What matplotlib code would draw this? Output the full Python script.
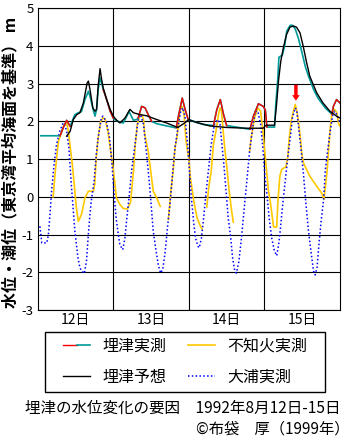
import numpy as np
import matplotlib
matplotlib.use("Agg")
import matplotlib.pyplot as plt
from matplotlib.lines import Line2D
from matplotlib.patches import Rectangle
from matplotlib.legend_handler import HandlerTuple

plt.rcParams['font.family'] = ['Noto Sans CJK JP', 'DejaVu Sans']
plt.rcParams['axes.unicode_minus'] = False

# hours from 12 Aug 0:00
day_centers = [12, 36, 60, 84]
day_labels = ['12日', '13日', '14日', '15日']
day_bounds = [24, 48, 72]

# 埋津実測 (observed)
obs_h = [1, 7.1, 8.2, 9.2, 10.3, 11.8, 12.9, 13.9, 15.0, 16.1, 16.6, 17.6, 18.2, 18.7,
         19.2, 19.8, 20.3, 20.8, 21.9, 23.0, 24.0, 24.4, 26.1, 27.2, 28.3, 29.0, 29.5,
         30.4, 31.4, 31.9, 33.0, 34.1, 35.1, 36.2, 37.8, 41.0, 44.0, 44.6, 45.9, 46.8,
         47.8, 48.4, 52.6, 55.8, 56.9, 58.0, 59.0, 60.0, 63.2, 67.4, 68.5, 70.1, 71.6,
         72.3, 72.8, 75.2, 75.6, 76.2, 76.6, 77.7, 78.4, 79.1, 80.2, 80.9, 81.8, 82.8,
         84.0, 85.0, 86.0, 87.6, 89.0, 91.3, 93.4, 93.9, 94.9, 96.0]
obs_v = [1.62, 1.62, 1.85, 2.03, 1.87, 2.18, 2.23, 2.26, 2.58, 2.80, 2.67, 2.32, 2.14, 2.32,
         2.85, 3.16, 3.02, 2.85, 2.58, 2.27, 2.09, 2.05, 1.98, 1.96, 2.14, 2.27, 2.18,
         2.03, 2.05, 2.09, 2.40, 2.36, 2.18, 2.00, 1.94, 1.88, 1.83, 2.10, 2.62, 2.32,
         2.05, 2.03, 1.92, 1.89, 2.32, 2.58, 2.19, 1.89, 1.85, 1.79, 2.14, 2.47, 2.40,
         2.30, 1.85, 1.85, 2.45, 3.07, 3.70, 3.76, 4.00, 4.40, 4.55, 4.55, 4.45, 4.20,
         3.80, 3.45, 3.20, 2.85, 2.62, 2.36, 2.19, 2.40, 2.58, 2.49]
# parts of the observed record drawn in red
red_spans = [(7.1, 10.3), (20.5, 24.0), (31.9, 36.2), (44.0, 47.8), (55.8, 60.0),
             (67.4, 72.8), (93.4, 96.0)]

# 埋津予想 (predicted)
pred_h = [9.2, 10.3, 11.3, 12.4, 13.4, 14.5, 15.7, 16.1, 16.6, 17.5, 18.2, 18.7, 19.2,
          19.8, 20.3, 20.8, 21.9, 23.0, 24.0, 25.1, 26.1, 27.7, 29.3, 30.4, 32.5, 34.6,
          37.8, 40.9, 44.5, 46.5, 48.0, 50.5, 54.7, 60.0, 66.4, 71.6, 72.5, 75.2, 75.8,
          76.5, 77.2, 78.0, 79.0, 80.1, 81.2, 82.2, 83.3, 84.3, 85.4, 86.4, 88.6, 90.6,
          92.8, 94.9, 96.0]
pred_v = [1.61, 1.74, 2.05, 2.18, 2.23, 2.49, 3.02, 3.07, 2.85, 2.36, 2.27, 2.32, 2.94,
          3.40, 3.11, 2.89, 2.58, 2.32, 2.14, 2.03, 1.96, 2.09, 2.32, 2.23, 2.18, 2.15,
          2.05, 1.96, 1.84, 1.95, 2.05, 1.97, 1.88, 1.84, 1.82, 1.82, 1.90, 1.90, 2.40,
          3.10, 3.60, 3.95, 4.30, 4.50, 4.53, 4.50, 4.35, 4.00, 3.56, 3.20, 2.76, 2.49,
          2.27, 2.14, 2.09]

# 不知火実測 (nan = missing)
shir_h = [4.9, 5.5, 6.0, 6.6, 7.2, 8.3, 9.2, 9.8, 10.2, 11.0, 11.8, 12.3, 12.9, 13.9,
          15.0, 16.1, 17.7, 18.1, 18.6, 19.2, 20.0, 20.7, 21.5, 22.3, 23.2, 24.0, 24.5,
          25.0, 26.1, 27.2, 28.5, 29.5, 30.4, 30.9, 31.6, 32.5, 33.0, 33.6, 34.0, 35.1,
          35.9, 36.7, 37.8, 38.9, 40.0, 41.5, 42.3, 43.0, 43.6, 44.2, 44.7, 45.2, 45.8,
          46.5, 47.1, 48.0, 48.5, 49.6, 50.6, 51.7, 52.2, 53.0, 53.7, 54.3, 55.1, 55.8,
          56.6, 57.4, 57.9, 58.4, 58.9, 59.5, 60.2, 60.8, 61.6, 62.1, 65.0, 67.3, 67.8,
          68.9, 69.9, 70.8, 71.5, 72.0, 72.7, 73.3, 73.8, 74.3, 74.9, 75.9, 76.3, 76.9,
          77.5, 78.8, 79.4, 79.9, 80.5, 81.2, 81.8, 82.3, 82.8, 83.4, 83.9, 84.4, 85.4,
          86.4, 88.6, 90.2, 90.9, 91.9, 92.4, 92.9, 93.4, 94.3, 95.0, 95.6, 96.0]
shir_v = [0.0, 0.6, 1.03, 1.48, 1.62, 1.9, 1.98, 1.7, 1.4, 0.86, 0.15, -0.3, -0.65, -0.47,
          -0.03, 0.15, 0.15, 0.33, 1.04, 1.57, 2.0, 2.1, 2.05, 1.74, 1.2, 0.72, 0.37,
          -0.03, -0.2, -0.31, -0.32, -0.14, 0.68, 1.3, 1.92, 2.18, 2.18, 2.05, 1.65, 1.21,
          0.68, 0.15, -0.03, -0.25, np.nan, -0.6, 0.15, 0.68, 1.3, 1.57, 1.92, 2.32, 2.4,
          2.18, 1.48, 1.0, 0.5, -0.12, -0.56, -0.78, -0.85, np.nan, -0.27, 0.24, 0.68, 1.39,
          1.74, 2.18, 2.36, 2.27, 1.74, 1.21, 0.68, 0.15, -0.38, -0.67, np.nan, 1.21, 1.57,
          2.1, 2.36, 2.27, 1.74, 1.3, 0.68, 0.15, -0.1, -0.4, -0.8, -0.8, -0.1, 0.55,
          0.73, 0.8, 1.04, 1.57, 2.0, 2.27, 2.45, 2.27, 2.0, 1.57, 1.12, 0.9, 0.72,
          0.55, 0.28, 0.1, -0.07, 0.68, 1.3, 1.83, 2.18, 2.32, 2.23, 1.92, 1.88]

# 大浦実測
oura_h = [0.7, 1.3, 2.9, 3.4, 3.9, 4.4, 5.2, 6.0, 7.0, 8.1, 8.6, 9.2, 9.9, 10.7, 11.3,
          11.8, 12.3, 12.8, 13.4, 14.0, 14.8, 15.5, 16.0, 16.5, 17.0, 17.9, 18.6, 19.2,
          20.2, 20.7, 21.8, 22.8, 23.6, 24.2, 24.9, 25.6, 26.1, 27.0, 27.7, 28.2, 29.0,
          29.8, 30.9, 32.0, 32.7, 33.6, 34.6, 35.5, 36.2, 36.7, 37.6, 38.3, 39.0, 39.7,
          40.5, 41.2, 42.0, 42.9, 43.6, 44.7, 45.4, 46.1, 46.8, 47.6, 48.2, 48.8, 49.6,
          50.1, 50.9, 51.3, 52.0, 52.7, 53.4, 54.3, 55.1, 56.1, 57.2, 57.9, 58.6, 59.3,
          60.0, 60.5, 61.3, 61.9, 62.6, 63.1, 63.9, 64.7, 65.5, 66.3, 67.3, 68.4, 69.1,
          69.9, 70.8, 71.5, 72.2, 72.7, 73.5, 74.3, 75.2, 75.9, 76.5, 77.0, 77.7, 78.6,
          79.4, 80.2, 80.9, 81.8, 82.3, 83.0, 83.7, 84.4, 85.2, 86.0, 86.9, 87.6, 88.1,
          88.7, 89.4, 90.0, 90.8, 91.3, 92.2, 92.9, 93.7, 94.3, 95.0, 95.8]
oura_v = [-0.78, -1.22, -1.22, -1.0, -0.47, 0.15, 0.86, 1.39, 1.74, 1.96, 1.9, 1.75, 1.3,
          0.3, -0.38, -0.91, -1.27, -1.62, -1.88, -1.97, -2.03, -1.7, -1.09, -0.56, -0.12,
          0.42, 1.12, 1.57, 2.1, 2.14, 2.0, 1.57, 0.86, 0.15, -0.56, -1.0, -1.27, -1.4,
          -1.09, -0.65, -0.03, 0.68, 1.39, 2.1, 2.18, 1.92, 1.12, 0.33, -0.38, -0.91,
          -1.44, -1.8, -2.02, -1.93, -1.44, -0.82, -0.2, 0.68, 1.3, 1.92, 2.27, 2.36, 2.1,
          1.39, 0.68, -0.03, -0.73, -1.09, -1.31, -1.35, -1.09, -0.56, 0.06, 0.77, 1.39,
          1.92, 2.05, 1.92, 1.3, 0.68, -0.03, -0.56, -1.09, -1.62, -1.97, -2.02, -1.71,
          -1.09, -0.38, 0.33, 1.21, 1.92, 2.27, 2.27, 1.92, 1.3, 0.5, 0.15, -0.56, -1.09,
          -1.44, -1.56, -1.27, -0.91, -0.29, 0.42, 1.04, 1.57, 2.1, 2.36, 2.27, 1.74,
          1.21, 0.6, -0.2, -0.91, -1.53, -1.97, -2.07, -1.88, -1.18, -0.65, -0.07, 0.68,
          1.3, 1.74, 2.18, 2.27, 2.18, 2.0]

# red arrow marking the 不知火 peak on the 15th
arrow_hour = 82.0
arrow_from, arrow_to = 2.97, 2.55

c_teal = '#009a9a'
c_red = '#ff0000'
c_orange = '#ffc800'
c_blue = '#0000ff'

W, H = 356, 442
fig = plt.figure(figsize=(W / 100, H / 100), dpi=100)
ax = fig.add_axes([37.7 / W, 1 - 310 / H, (340 - 37.7) / W, (310 - 8.3) / H])
ax.set_xlim(0, 96)
ax.set_ylim(-3, 5)

ax.plot(shir_h, shir_v, color=c_orange, lw=1.2)
ax.plot(oura_h, oura_v, color=c_blue, lw=1.1, dashes=(1, 1.5))
ax.plot(obs_h, obs_v, color=c_teal, lw=1.2)
oh = np.array(obs_h)
ov = np.array(obs_v)
for a, b in red_spans:
    m = (oh >= a) & (oh <= b)
    ax.plot(oh[m], ov[m], color=c_red, lw=1.0)
ax.plot(pred_h, pred_v, color='black', lw=1.0)

ax.annotate('', xy=(arrow_hour, arrow_to), xytext=(arrow_hour, arrow_from),
            arrowprops=dict(arrowstyle='simple,head_width=0.55,head_length=0.4,tail_width=0.25',
                            color=c_red, lw=0, shrinkA=0, shrinkB=0))

ax.set_xticks(day_bounds)
ax.set_xticklabels([])
ax.set_xticks(day_centers, minor=True)
ax.set_xticklabels(day_labels, minor=True, fontsize=10)
ax.set_yticks(range(-3, 6))
ax.tick_params(which='both', length=0)
ax.tick_params(axis='y', labelsize=9.5, pad=3)
ax.tick_params(axis='x', which='minor', pad=2)
ax.grid(True, which='major', color='black', lw=0.8)
for s in ax.spines.values():
    s.set_linewidth(0.8)

ax.set_ylabel('水位・潮位（東京湾平均海面を基準） m', fontsize=11.5, fontweight='bold')
ax.yaxis.set_label_coords(-0.065, 0.49)

# legend
h_obs = (Line2D([], [], color=c_red, lw=1.0), Line2D([], [], color=c_teal, lw=1.2))
h_pred = Line2D([], [], color='black', lw=1.0)
h_shir = Line2D([], [], color=c_orange, lw=1.2)
h_oura = Line2D([], [], color=c_blue, lw=1.1, dashes=(1, 1.5))
fig.legend([h_obs, h_pred, h_shir, h_oura], ['埋津実測', '埋津予想', '不知火実測', '大浦実測'],
           handler_map={tuple: HandlerTuple(ndivide=None, pad=0)},
           ncol=2, loc='upper left', bbox_to_anchor=(63 / W, 1 - 338 / H),
           frameon=False, fontsize=11.5, borderpad=0, borderaxespad=0,
           handlelength=1.7, handletextpad=0.8, columnspacing=1.3, labelspacing=0.85)
fig.patches.append(Rectangle((45 / W, 1 - 392 / H), 280 / W, 60 / H, transform=fig.transFigure,
                             fill=False, ec='black', lw=1.0))

fig.text(25 / W, 1 - 408 / H, '埋津の水位変化の要因　1992年8月12日-15日', fontsize=11.2,
         ha='left', va='center')
fig.text(350 / W, 1 - 429 / H, '©布袋　厚（1999年）', fontsize=11.0, ha='right', va='center')

fig.savefig('out.png', dpi=100)
